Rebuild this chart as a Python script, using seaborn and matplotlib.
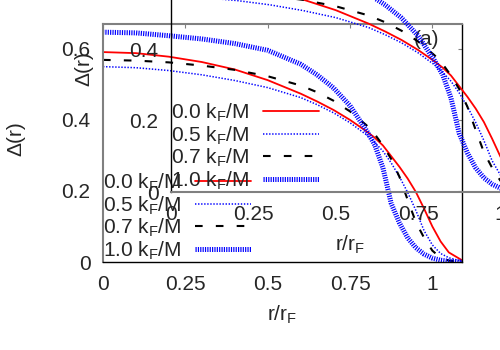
import matplotlib
matplotlib.use("Agg")
import matplotlib.pyplot as plt
import seaborn as sns

# radial position r/r_F
r = [0, 0.1, 0.2, 0.3, 0.4, 0.5, 0.6, 0.65, 0.7, 0.75, 0.8, 0.825, 0.85,
     0.875, 0.9, 0.925, 0.95, 0.975, 1.0, 1.025, 1.05, 1.09]

# gap profiles Delta(r) for different k_F/M
gap_00 = [0.591, 0.588, 0.578, 0.563, 0.542, 0.512, 0.474, 0.452, 0.428, 0.400,
          0.368, 0.350, 0.328, 0.298, 0.268, 0.235, 0.197, 0.150, 0.100, 0.058,
          0.027, 0.005]
gap_05 = [0.550, 0.547, 0.539, 0.527, 0.511, 0.491, 0.463, 0.443, 0.420, 0.392,
          0.358, 0.337, 0.312, 0.279, 0.240, 0.196, 0.145, 0.088, 0.048, 0.024,
          0.012, 0.002]
gap_07 = [0.569, 0.567, 0.562, 0.553, 0.541, 0.523, 0.497, 0.478, 0.454, 0.424,
          0.385, 0.360, 0.328, 0.290, 0.240, 0.175, 0.112, 0.068, 0.032, 0.012,
          0.004, 0.0]
gap_10 = [0.647, 0.645, 0.637, 0.628, 0.615, 0.596, 0.557, 0.527, 0.490, 0.440,
          0.370, 0.330, 0.265, 0.165, 0.110, 0.068, 0.040, 0.022, 0.011, 0.005,
          0.002, 0.0]

labels = [r"0.0 k$_\mathrm{F}$/M", r"0.5 k$_\mathrm{F}$/M",
          r"0.7 k$_\mathrm{F}$/M", r"1.0 k$_\mathrm{F}$/M"]
xticks = [0, 0.25, 0.5, 0.75, 1]
xticklabels = ["0", "0.25", "0.5", "0.75", "1"]
yticks = [0, 0.2, 0.4, 0.6]
yticklabels = ["0", "0.2", "0.4", "0.6"]

FS = 15

sns.set_style("white")
plt.rcParams["font.family"] = ["Liberation Sans", "DejaVu Sans"]
plt.rcParams["mathtext.fontset"] = "custom"
plt.rcParams["mathtext.rm"] = "Liberation Sans"
plt.rcParams["lines.scale_dashes"] = False
plt.rcParams["font.size"] = FS

styles = [
    dict(color="#ff0000", lw=1.3, linestyle="-"),
    dict(color="#0000ff", lw=1.1, linestyle=(0, (1.0, 1.2))),
    dict(color="black", lw=1.5, linestyle=(0, (5.5, 9.5))),
    dict(color="#0000ff", lw=3.6, linestyle=(0, (0.85, 0.85))),
]


def draw(ax):
    for ys, lab, st in zip([gap_00, gap_05, gap_07, gap_10], labels, styles):
        sns.lineplot(x=r, y=ys, ax=ax, label=lab, **st)
    ax.set_xlim(0, 1.09)
    ax.set_ylim(0, 0.67)
    ax.set_xticks(xticks)
    ax.set_xticklabels(xticklabels)
    ax.set_yticks(yticks)
    ax.set_yticklabels(yticklabels)
    ax.tick_params(direction="in", length=3, width=0.8, color="0.5",
                   top=True, right=True, pad=9, labelsize=FS)
    ax.set_xlabel(r"r/r$_\mathrm{F}$", fontsize=FS)
    ax.set_ylabel("Δ(r)", fontsize=FS)
    ax.xaxis.set_label_coords(0.5, -0.175)
    ax.yaxis.set_label_coords(-0.215, 0.52)
    ax.legend(loc="upper left", bbox_to_anchor=(0.0, 0.38), frameon=False,
              markerfirst=False, handlelength=2.7, handletextpad=0.65,
              labelspacing=0.0, borderpad=0, borderaxespad=0, fontsize=FS)
    ax.text(0.902, 0.933, "(a)", transform=ax.transAxes, ha="center",
            va="center", fontsize=FS)


fig = plt.figure(figsize=(5, 3.5), dpi=100)
ax1 = fig.add_axes([0.206, 0.2514, 0.718, 0.68])
draw(ax1)
for side in ["left", "top"]:
    ax1.spines[side].set_color("0.5")
    ax1.spines[side].set_linewidth(1.5)
for side in ["right", "bottom"]:
    ax1.spines[side].set_color("black")
    ax1.spines[side].set_linewidth(1.0)

ax2 = fig.add_axes([0.342, 0.4514, 0.718, 0.68])
ax2.set_facecolor("none")
draw(ax2)
ax2.spines["left"].set_color("black")
ax2.spines["left"].set_linewidth(1.0)
for side in ["bottom", "top", "right"]:
    ax2.spines[side].set_color("0.5")
    ax2.spines[side].set_linewidth(1.5)

fig.savefig("out.png", dpi=100)
